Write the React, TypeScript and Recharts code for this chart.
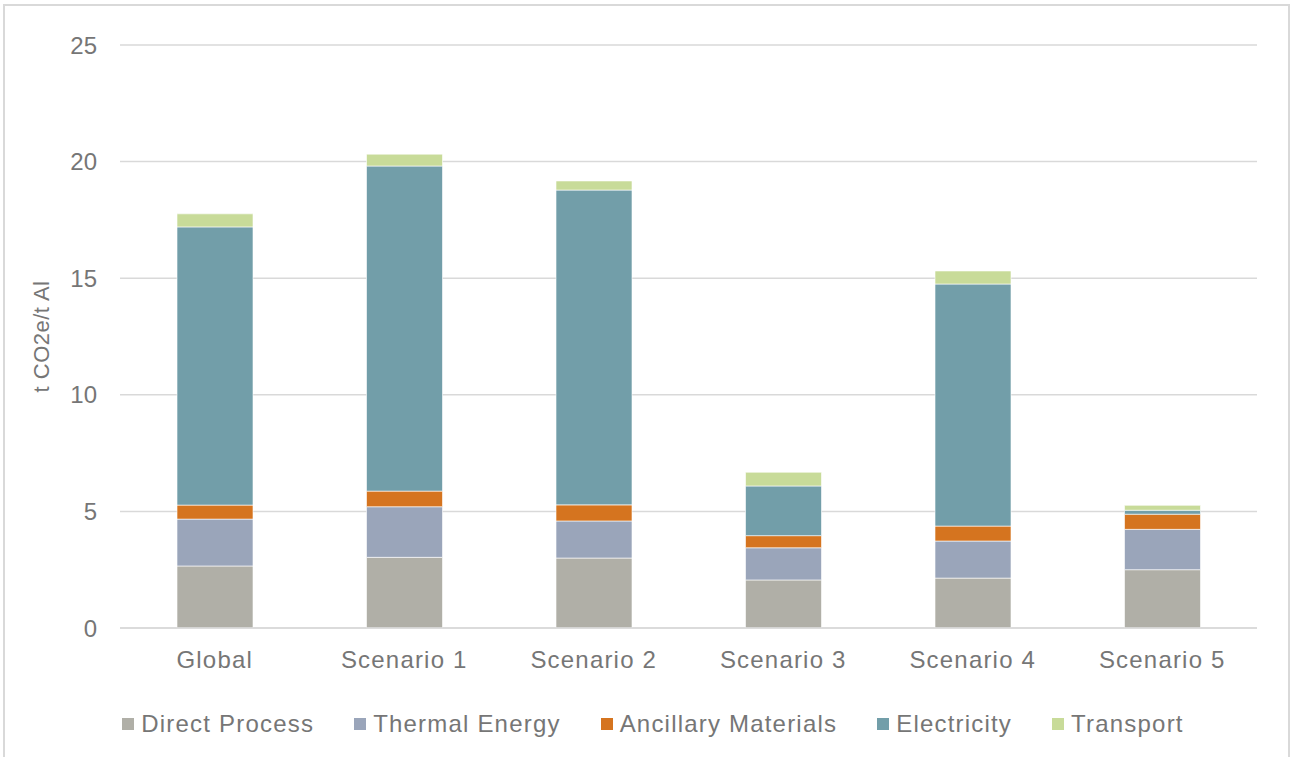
import React from "react";
import {
  BarChart,
  Bar,
  XAxis,
  YAxis,
  CartesianGrid,
  Legend,
} from "recharts";

const categories = ["Global", "Scenario 1", "Scenario 2", "Scenario 3", "Scenario 4", "Scenario 5"];
const directProcess = [2.66, 3.03, 3.0, 2.06, 2.14, 2.5];
const thermalEnergy = [2.01, 2.17, 1.59, 1.38, 1.59, 1.73];
const ancillaryMaterials = [0.6, 0.67, 0.69, 0.52, 0.64, 0.65];
const electricity = [11.93, 13.94, 13.5, 2.13, 10.38, 0.17];
const transport = [0.56, 0.51, 0.39, 0.59, 0.56, 0.21];
const yTicks = [0, 5, 10, 15, 20, 25];

const series = [
  { key: "directProcess", name: "Direct Process", color: "#b0afa7" },
  { key: "thermalEnergy", name: "Thermal Energy", color: "#9aa5ba" },
  { key: "ancillaryMaterials", name: "Ancillary Materials", color: "#d5741f" },
  { key: "electricity", name: "Electricity", color: "#729ea9" },
  { key: "transport", name: "Transport", color: "#c8db99" },
];

const data = categories.map((name, i) => ({
  name,
  directProcess: directProcess[i],
  thermalEnergy: thermalEnergy[i],
  ancillaryMaterials: ancillaryMaterials[i],
  electricity: electricity[i],
  transport: transport[i],
}));

const FONT = '"Liberation Sans", Arial, sans-serif';
const TEXT = "#767676";
const GRID = "#d9d9d9";

const YLabel = ({ viewBox }: any) => {
  const cx = (viewBox?.x ?? 0) + 41;
  const cy = (viewBox?.y ?? 0) + (viewBox?.height ?? 0) / 2;
  return (
    <text
      x={cx}
      y={cy}
      transform={`rotate(-90 ${cx} ${cy})`}
      textAnchor="middle"
      dominantBaseline="central"
      fill={TEXT}
      fontSize={22}
      fontFamily={FONT}
      letterSpacing={0.5}
    >
      t CO2e/t Al
    </text>
  );
};

const LegendContent = () => (
  <div
    style={{
      height: 69,
      display: "flex",
      justifyContent: "center",
      alignItems: "center",
      paddingLeft: 16,
      paddingTop: 3,
      boxSizing: "border-box",
      fontFamily: FONT,
      fontSize: 24,
      letterSpacing: 1.2,
      color: TEXT,
    }}
  >
    {series.map((s, i) => (
      <div
        key={s.key}
        style={{
          display: "flex",
          alignItems: "center",
          marginRight: i === series.length - 1 ? 0 : 40,
        }}
      >
        <span style={{ width: 12, height: 12, background: s.color, marginRight: 7 }} />
        <span>{s.name}</span>
      </div>
    ))}
  </div>
);

export default function App() {
  return (
    <div
      style={{
        position: "absolute",
        left: 0,
        top: 0,
        width: 1290,
        height: 757,
        overflow: "hidden",
        background: "#fff",
      }}
    >
      <div
        style={{
          position: "absolute",
          left: 3,
          top: 4,
          width: 1287,
          height: 780,
          border: `2px solid ${GRID}`,
          boxSizing: "border-box",
        }}
      />
      <BarChart
        width={1290}
        height={757}
        data={data}
        margin={{ top: 45, right: 33, left: 0, bottom: 0 }}
        barSize={76}
        style={{ position: "absolute", left: 0, top: 0 }}
      >
        <CartesianGrid vertical={false} stroke={GRID} strokeWidth={1.5} />
        <XAxis
          dataKey="name"
          height={60}
          axisLine={{ stroke: GRID, strokeWidth: 1.5 }}
          tickLine={false}
          tickSize={8}
          tickMargin={15}
          tick={{ fill: TEXT, fontSize: 24, fontFamily: FONT, letterSpacing: 1.2 }}
        />
        <YAxis
          width={120}
          domain={[0, 25]}
          ticks={yTicks}
          axisLine={false}
          tickLine={false}
          tickSize={8}
          tickMargin={15}
          tick={{ fill: TEXT, fontSize: 24, fontFamily: FONT }}
          label={<YLabel />}
        />
        <Legend
          verticalAlign="bottom"
          content={<LegendContent />}
          wrapperStyle={{ left: 0, width: 1290 }}
        />
        {series.map((s) => (
          <Bar
            key={s.key}
            dataKey={s.key}
            name={s.name}
            stackId="a"
            fill={s.color}
            stroke="#ffffff"
            strokeOpacity={0.6}
            strokeWidth={1}
            isAnimationActive={false}
          />
        ))}
      </BarChart>
    </div>
  );
}
